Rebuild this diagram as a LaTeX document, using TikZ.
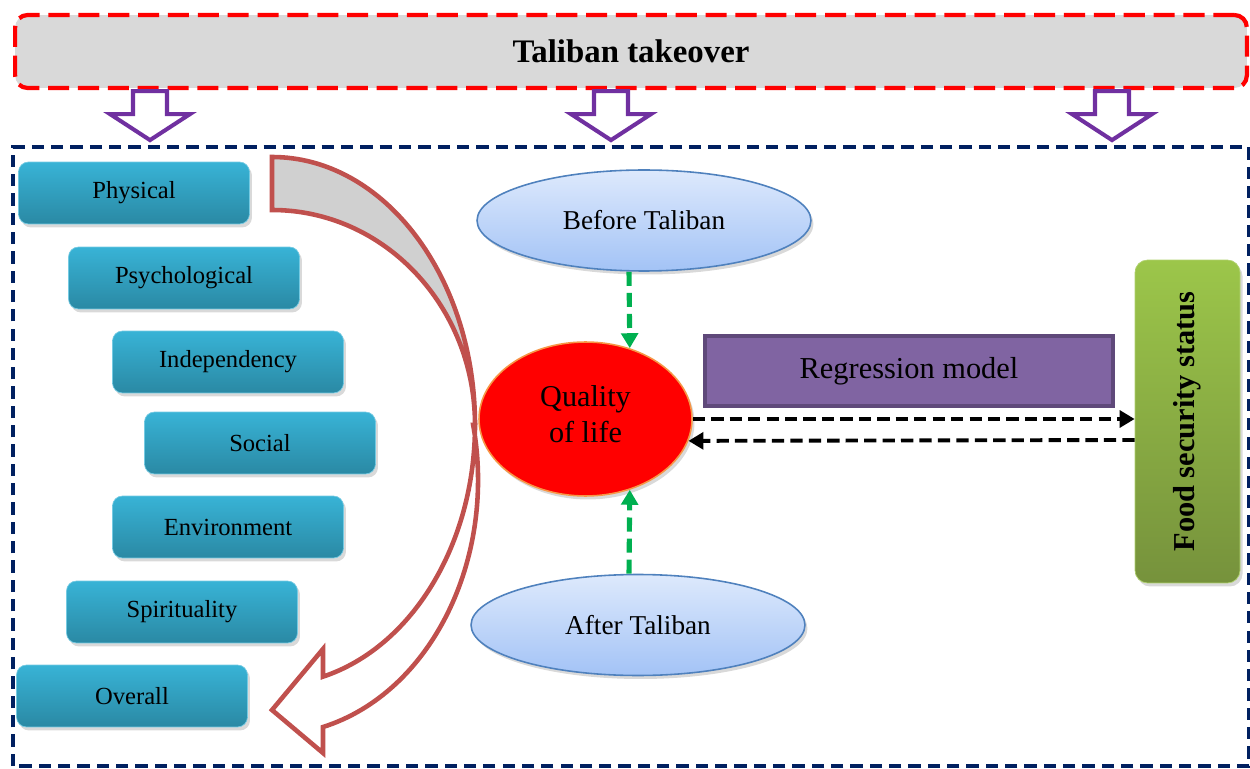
\documentclass[tikz,border=0pt]{standalone}
\usepackage{fontspec}
\setmainfont{Liberation Serif}
\usetikzlibrary{positioning,calc,shadows,shapes.geometric,arrows.meta}

\definecolor{takeRed}{HTML}{FF0000}
\definecolor{takeGray}{HTML}{D9D9D9}
\definecolor{arrPurple}{HTML}{7030A0}
\definecolor{frameNavy}{HTML}{002060}
\definecolor{dimTop}{HTML}{38B3D6}
\definecolor{dimBottom}{HTML}{2A89A4}
\definecolor{curveRed}{HTML}{C0504D}
\definecolor{curveGray}{HTML}{D0D0D0}
\definecolor{eraTop}{HTML}{DDE9FC}
\definecolor{eraBottom}{HTML}{A3C3F6}
\definecolor{eraLine}{HTML}{4F81BD}
\definecolor{qolLine}{HTML}{F79646}
\definecolor{regFill}{HTML}{8064A2}
\definecolor{regLine}{HTML}{5F497A}
\definecolor{foodTop}{HTML}{9CC64A}
\definecolor{foodBottom}{HTML}{76923C}
\definecolor{linkGreen}{HTML}{00B050}

\tikzset{
    softShadow/.style={drop shadow={opacity=0.3, shadow xshift=0.05cm, shadow yshift=-0.07cm}},
    takeBox/.style={rounded corners=0.25cm, fill=takeGray, draw=takeRed, line width=2.4pt,
            dash pattern=on 12pt off 5pt, minimum width=24.64cm, minimum height=1.46cm,
            font=\bfseries\fontsize{18.7}{22}\selectfont},
    blockArr/.style={draw=arrPurple, fill=white, line width=2.3pt},
    frameBox/.style={draw=frameNavy, line width=2.4pt, dash pattern=on 7pt off 4pt},
    dimBox/.style={rounded corners=0.2cm, top color=dimTop, bottom color=dimBottom,
            draw=dimTop!70!white, line width=0.4pt, minimum width=4.62cm, minimum height=1.24cm,
            font=\fontsize{14}{17}\selectfont, softShadow},
    curveBack/.style={fill=curveGray, draw=curveRed, line width=2.6pt},
    curveFront/.style={fill=white, draw=curveRed, line width=2.6pt},
    eraEllipse/.style={ellipse, top color=eraTop, bottom color=eraBottom, draw=eraLine,
            line width=0.9pt, inner sep=0pt, minimum width=6.68cm, minimum height=2.02cm,
            font=\fontsize{15.5}{18}\selectfont, softShadow},
    qolEllipse/.style={ellipse, fill=takeRed, draw=qolLine, line width=0.9pt, inner sep=0pt,
            minimum width=4.26cm, minimum height=3.08cm, align=center, text depth=0.2cm,
            font=\fontsize{17.2}{21}\selectfont, softShadow},
    regBox/.style={fill=regFill, draw=regLine, line width=2.4pt, minimum width=8.16cm,
            minimum height=1.4cm, font=\fontsize{17.3}{20}\selectfont},
    foodBox/.style={rounded corners=0.25cm, top color=foodTop, bottom color=foodBottom,
            draw=foodTop!80!white, line width=0.4pt, minimum width=2.1cm, minimum height=6.46cm,
            inner sep=0pt, font=\bfseries\fontsize{17.3}{20}\selectfont, softShadow},
    greenLink/.style={draw=linkGreen, line width=2.9pt, dash pattern=on 8pt off 4pt,
            -{Triangle[length=8.5pt,width=9.5pt]}},
    blackLink/.style={draw=black, line width=2.2pt, dash pattern=on 7pt off 3.5pt,
            -{Triangle[length=8.5pt,width=9.5pt]}}
}

\begin{document}
\begin{tikzpicture}[x=0.02cm, y=0.02cm]
    \useasboundingbox (0,0) rectangle (1250,768);

    % takeover banner
    \node[takeBox] (takeover) at (631,716.5) {Taliban takeover};

    % hollow arrows under the banner
    \foreach \dx in {-481,-20,481}
        {
            \coordinate (arrTop) at ($(takeover.south) + (\dx, -1)$);
            \draw[blockArr] ($(arrTop) + (-17, 0)$) -- ++(34, 0) -- ++(0, -23) -- ++(23, 0)
                -- ($(arrTop) + (0, -49)$) -- ($(arrTop) + (-40, -23)$) -- ++(23, 0) -- cycle;
        }

    % study frame
    \draw[frameBox] (13,2) rectangle (1249,621);

    % quality of life dimensions
    \foreach \nm/\lbl/\px/\py in {physical/Physical/134/575, psychological/Psychological/184/490,
            independency/Independency/228/406, social/Social/260/325,
            environment/Environment/228/241, spirituality/Spirituality/182/156,
            overall/Overall/132/72}
        \node[dimBox] (\nm) at (\px,\py) {\lbl};

    % curved arrow
    \coordinate (curveTop) at (272,611);
    \filldraw[curveBack] (curveTop) arc[start angle=90, end angle=0, x radius=203, y radius=268]
        arc[start angle=0, end angle=90, x radius=203, y radius=215] -- cycle;
    \coordinate (curveMid) at (475,343);
    \filldraw[curveFront] (curveMid) arc[start angle=0, end angle=-75.45, x radius=203, y radius=260]
        -- (323,119) -- (272,58) -- (323,15) -- (323,41)
        arc[start angle=-75.67, end angle=12.46, x radius=206, y radius=255] -- cycle;

    % periods and outcome
    \node[eraEllipse] (beforeTal) at (644,547.5) {Before Taliban};
    \node[eraEllipse] (afterTal) at (638,143) {After Taliban};
    \node[qolEllipse] (qol) at (585.5,349) {Quality\\of life};
    \node[regBox] (regModel) at (909,397) {Regression model};
    \node[foodBox] (foodSec) at (1187.5,346.5) {\rotatebox{90}{Food security status}};

    % links
    \draw[greenLink] ([xshift=-0.3cm]beforeTal.south) -- (qol.58);
    \draw[greenLink] ([xshift=-0.18cm]afterTal.north) -- (qol.-58);
    \draw[blackLink] (qol.east) -- (qol.east -| foodSec.west);
    \draw[blackLink] ([yshift=-0.37cm]foodSec.west) -- (qol.-12);
\end{tikzpicture}
\end{document}
